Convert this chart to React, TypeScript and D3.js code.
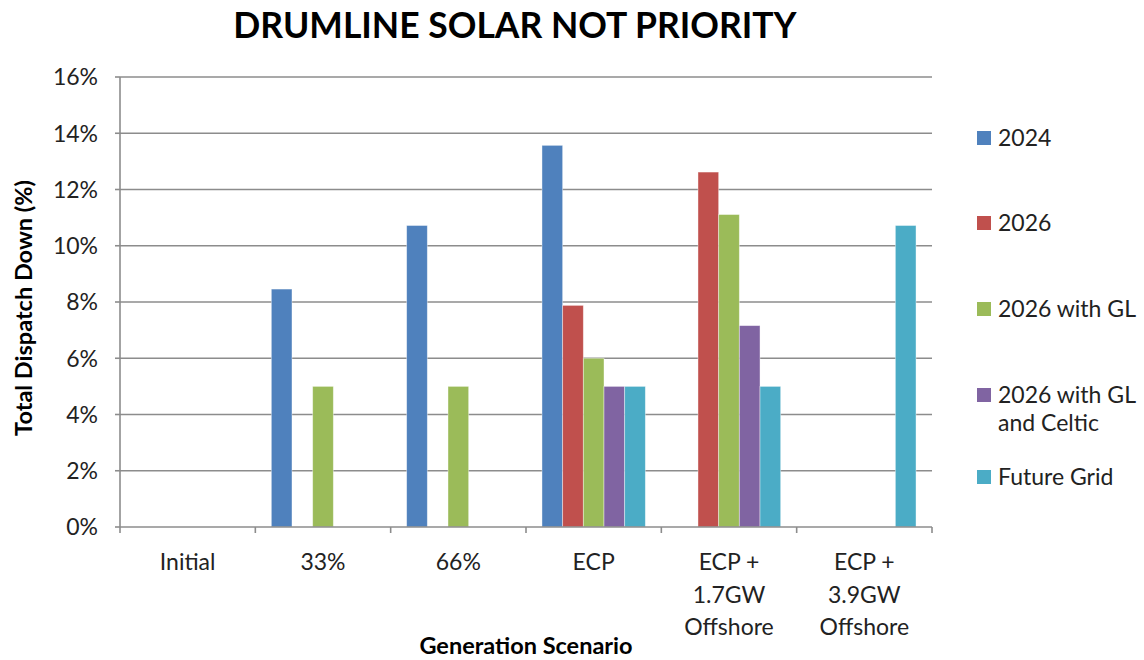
import React from "react";
import * as d3 from "d3";

const categories: string[][] = [
  ["Initial"],
  ["33%"],
  ["66%"],
  ["ECP"],
  ["ECP +", "1.7GW", "Offshore"],
  ["ECP +", "3.9GW", "Offshore"],
];
const seriesNames = ["2024", "2026", "2026 with GL", "2026 with GL and Celtic", "Future Grid"];
const legendLines: string[][] = [["2024"], ["2026"], ["2026 with GL"], ["2026 with GL", "and Celtic"], ["Future Grid"]];
const colors = ["#4F81BD", "#C0504D", "#9BBB59", "#8064A2", "#4BACC6"];

// values in % per category, per series (null = no bar)
const s2024 = [null, 8.46, 10.72, 13.57, null, null];
const s2026 = [null, null, null, 7.88, 12.62, null];
const s2026GL = [null, 5.0, 5.0, 6.0, 11.11, null];
const s2026GLC = [null, null, null, 5.0, 7.16, null];
const sFuture = [null, null, null, 5.0, 5.0, 10.72];
const seriesValues = [s2024, s2026, s2026GL, s2026GLC, sFuture];
const yTicks = [0, 2, 4, 6, 8, 10, 12, 14, 16];

const FONT = "Lato, 'Open Sans', sans-serif";

export default function App() {
  const W = 1144, H = 660;
  const left = 120, right = 932, top = 77, bottom = 527;
  const x0 = d3.scaleBand<number>().domain(d3.range(categories.length)).range([left, right]).paddingInner(0).paddingOuter(0);
  const x1 = d3.scaleBand<number>().domain(d3.range(seriesNames.length)).range([0, x0.bandwidth()]).paddingInner(0).paddingOuter(0.773);
  const y = d3.scaleLinear().domain([0, 16]).range([bottom, top]);
  const gridColor = "#8c8c8c";
  const legendY = [138, 223, 309, 395, 477];

  return (
    <svg width={W} height={H} style={{ position: "absolute", left: 0, top: 0, background: "#fff" }}>
      <text x={515} y={38} textAnchor="middle" fontFamily={FONT} fontWeight="bold" fontSize={35.5} fill="#000">
        DRUMLINE SOLAR NOT PRIORITY
      </text>
      {yTicks.map((t) => (
        <g key={t}>
          {t > 0 && <line x1={left} x2={right} y1={y(t)} y2={y(t)} stroke={gridColor} strokeWidth={1.6} />}
          <line x1={left - 5} x2={left} y1={y(t)} y2={y(t)} stroke={gridColor} strokeWidth={1.6} />
          <text x={98} y={y(t)} dy="0.36em" textAnchor="end" fontFamily={FONT} fontSize={23} fill="#222">
            {t}%
          </text>
        </g>
      ))}
      {seriesValues.map((vals, si) =>
        vals.map((v, ci) =>
          v == null ? null : (
            <rect
              key={`${si}-${ci}`}
              x={(x0(ci) as number) + (x1(si) as number)}
              y={y(v)}
              width={x1.bandwidth()}
              height={y(0) - y(v)}
              fill={colors[si]}
              stroke="#ffffff"
              strokeOpacity={0.5}
              strokeWidth={0.8}
            />
          )
        )
      )}
      <line x1={left} x2={left} y1={top} y2={bottom} stroke={gridColor} strokeWidth={1.6} />
      <line x1={left} x2={right} y1={bottom} y2={bottom} stroke={gridColor} strokeWidth={1.6} />
      {d3.range(categories.length + 1).map((i) => {
        const xx = left + i * x0.step();
        return <line key={i} x1={xx} x2={xx} y1={bottom} y2={bottom + 6} stroke={gridColor} strokeWidth={1.6} />;
      })}
      {categories.map((lines, ci) => (
        <text key={ci} textAnchor="middle" fontFamily={FONT} fontSize={23} fill="#222">
          {lines.map((ln, li) => (
            <tspan key={li} x={(x0(ci) as number) + x0.bandwidth() / 2} y={570 + li * 32.5}>
              {ln}
            </tspan>
          ))}
        </text>
      ))}
      <text x={526} y={654} textAnchor="middle" fontFamily={FONT} fontWeight="bold" fontSize={23.5} fill="#000">
        Generation Scenario
      </text>
      <text
        transform={`translate(24,308) rotate(-90)`}
        dy="0.36em"
        textAnchor="middle"
        fontFamily={FONT}
        fontWeight="bold"
        fontSize={23.5}
        fill="#000"
      >
        Total Dispatch Down (%)
      </text>
      {legendLines.map((lines, i) => (
        <g key={i}>
          <rect x={977} y={legendY[i] - 7} width={14} height={14} fill={colors[i]} />
          <text fontFamily={FONT} fontSize={23} fill="#222">
            {lines.map((ln, li) => (
              <tspan key={li} x={998} y={legendY[i] + 8 + li * 28}>
                {ln}
              </tspan>
            ))}
          </text>
        </g>
      ))}
    </svg>
  );
}
